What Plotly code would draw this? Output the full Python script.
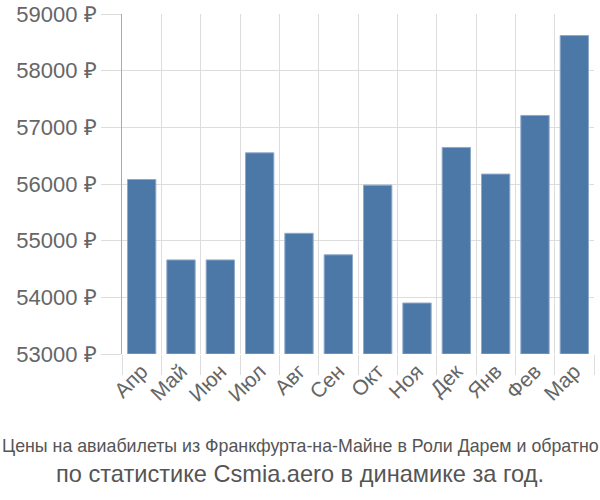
import plotly.graph_objects as go

months = ["Апр", "Май", "Июн", "Июл", "Авг", "Сен", "Окт", "Ноя", "Дек", "Янв", "Фев", "Мар"]
prices = [56080, 54660, 54660, 56550, 55130, 54750, 55980, 53900, 56645, 56175, 57210, 58620]
y_ticks = [53000, 54000, 55000, 56000, 57000, 58000, 59000]
y_tick_text = [f"{v} ₽" for v in y_ticks]
title_line1 = "Цены на авиабилеты из Франкфурта-на-Майне в Роли Дарем и обратно"
title_line2 = "по статистике Csmia.aero в динамике за год."

idx = list(range(len(months)))
base = y_ticks[0]

W, H = 600, 500
ML, MR, MT, MB = 122, 6, 14, 146

fig = go.Figure(go.Bar(
    x=idx,
    y=[p - base for p in prices],
    base=base,
    marker=dict(color="#4c78a8", line=dict(color="#8fa9c9", width=1)),
    width=0.72,
    hoverinfo="skip",
))

grid = "#dddddd"
plot_w = W - ML - MR
plot_h = H - MT - MB
cx = (W / 2 - ML) / plot_w


def py(pix):
    return (H - MB - pix) / plot_h


fig.update_layout(
    width=W, height=H,
    margin=dict(l=ML, r=MR, t=MT, b=MB, autoexpand=False),
    paper_bgcolor="white", plot_bgcolor="white",
    showlegend=False,
    font=dict(family="Liberation Sans, Arial, sans-serif", color="#666666"),
    xaxis=dict(
        range=[-0.5, len(months) - 0.5], automargin=False,
        tickvals=idx, ticktext=months,
        tickangle=-45, tickfont=dict(size=21, color="#666666"),
        showgrid=False, ticks="", zeroline=False,
        minor=dict(tick0=-0.5, dtick=1, showgrid=True, gridcolor=grid, gridwidth=1,
                   ticks="outside", ticklen=20, tickcolor=grid, tickwidth=1),
    ),
    yaxis=dict(
        range=[y_ticks[0], y_ticks[-1]], automargin=False,
        tickvals=y_ticks, ticktext=y_tick_text,
        tickfont=dict(size=22, color="#666666"),
        showgrid=True, gridcolor=grid, gridwidth=1,
        ticks="outside", ticklen=20, tickcolor=grid,
        showline=True, linecolor="#aaaaaa", linewidth=1,
        zeroline=False,
    ),
    annotations=[
        dict(text=title_line1, x=cx, y=py(446), xref="paper", yref="paper", showarrow=False,
             xanchor="center", yanchor="middle",
             font=dict(family="Liberation Sans, Arial, sans-serif", size=17.8, color="#555555")),
        dict(text=title_line2, x=cx, y=py(474), xref="paper", yref="paper", showarrow=False,
             xanchor="center", yanchor="middle",
             font=dict(family="Liberation Sans, Arial, sans-serif", size=23.6, color="#555555")),
    ],
)

fig.write_html("out.html")
